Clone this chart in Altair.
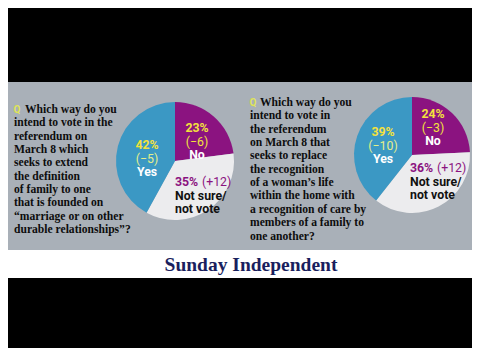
import altair as alt
import pandas as pd

# ---------------- data ----------------
categories = ["No", "Not sure/not vote", "Yes"]
pie1_values = [23, 35, 42]
pie1_changes = ["(−6)", "(+12)", "(−5)"]
pie2_values = [24, 36, 39]
pie2_changes = ["(−3)", "(+12)", "(−10)"]

question1 = [
    "Which way do you",
    "intend to vote in the",
    "referendum on",
    "March 8 which",
    "seeks to extend",
    "the definition",
    "of family to one",
    "that is founded on",
    "“marriage or on other",
    "durable relationships”?",
]
question2 = [
    "Which way do you",
    "intend to vote in",
    "the referendum",
    "on March 8 that",
    "seeks to replace",
    "the recognition",
    "of a woman’s life",
    "within the home with",
    "a recognition of care by",
    "members of a family to",
    "one another?",
]
masthead = "Sunday Independent"

# ---------------- styles ----------------
W, H = 464, 340
OFF = 8  # page margin
GREY = "#a9b0b8"
BLUE = "#3b98c4"
PURPLE = "#8b1380"
LIGHT = "#ececee"
YELLOW = "#f3e23c"
NAVY = "#1a1f5e"
SERIF = "Liberation Serif"
SANS = "Roboto"

color_scale = alt.Scale(domain=categories, range=[PURPLE, LIGHT, BLUE])


def px(v):
    return alt.value(v - OFF)


def rect(x1, x2, y1, y2, color):
    return alt.Chart(pd.DataFrame({"a": [0]})).mark_rect(color=color).encode(
        x=alt.value(x1), x2=alt.value(x2), y=alt.value(y1), y2=alt.value(y2)
    )


def text(t, x, y, size, color, font=SANS, weight="bold", align="center"):
    return alt.Chart(pd.DataFrame({"a": [0]})).mark_text(
        font=font, fontSize=size, fontWeight=weight, color=color,
        align=align, baseline="middle"
    ).encode(x=px(x), y=px(y), text=alt.value(t))


def pie(values, cx, cy, r):
    df = pd.DataFrame({"category": categories, "value": values,
                       "order": list(range(len(values)))})
    return alt.Chart(df).mark_arc(radius=r).encode(
        theta=alt.Theta("value:Q", stack="normalize"),
        color=alt.Color("category:N", scale=color_scale, legend=None),
        order=alt.Order("order:Q"),
        x=px(cx), y=px(cy),
    )


layers = []
# grey panel and white strip
layers.append(rect(0, W, 82 - OFF, 250 - OFF, GREY))
layers.append(rect(0, W, 250 - OFF, 278 - OFF, "white"))

# pies
layers.append(pie(pie1_values, 175, 161, 59))
layers.append(pie(pie2_values, 412, 155, 58))

# question texts
LH = 13.35
QS = 11.6
INK = "#0d0d0d"
layers.append(text("Q", 17, 110, 10, "#dfe35a", weight="bold"))
layers.append(text(question1[0], 25, 110, QS, INK, font=SERIF, align="left"))
for i, line in enumerate(question1[1:], start=1):
    layers.append(text(line, 14, 110 + i * LH, QS, INK, font=SERIF, align="left"))

layers.append(text("Q", 253, 103, 10, "#dfe35a", weight="bold"))
layers.append(text(question2[0], 260, 103, QS, INK, font=SERIF, align="left"))
for i, line in enumerate(question2[1:], start=1):
    layers.append(text(line, 250, 103 + i * LH, QS, INK, font=SERIF, align="left"))

# pie labels
FS = 12.3
PAREN_BLUE = "#e4ef8a"


def pie_labels(values, changes, no_xy, yes_xy, ns_xy):
    out = []
    (nx, ny), (yx, yy), (sx, sy) = no_xy, yes_xy, ns_xy
    step = 13.5
    out.append(text(f"{values[0]}%", nx, ny, FS, YELLOW))
    out.append(text(changes[0], nx, ny + step, FS, YELLOW, weight="normal"))
    out.append(text(categories[0], nx, ny + 2 * step, FS, "white"))
    out.append(text(f"{values[2]}%", yx, yy, FS, YELLOW))
    out.append(text(changes[2], yx, yy + step, FS, PAREN_BLUE, weight="normal"))
    out.append(text(categories[2], yx, yy + 2 * step, FS, "white"))
    out.append(text(f"{values[1]}%", sx, sy, FS, PURPLE, align="left"))
    out.append(text(changes[1], sx + 27, sy, FS, PURPLE, weight="normal", align="left"))
    out.append(text("Not sure/", sx, sy + step, FS, "#111111", align="left"))
    out.append(text("not vote", sx, sy + 2 * step, FS, "#111111", align="left"))
    return out


layers += pie_labels(pie1_values, pie1_changes, (197, 128), (147, 145), (175, 182))
layers += pie_labels(pie2_values, pie2_changes, (433, 114), (383, 132), (410, 168))

# masthead
layers.append(text(masthead, 251, 265, 19.5, NAVY, font=SERIF))

chart = alt.layer(*layers).properties(
    width=W, height=H, autosize=alt.AutoSizeParams(type="none"), padding=0,
    background="black",
).configure_view(stroke=None)

chart.save("out.html", embed_options={"renderer": "svg", "actions": False})
